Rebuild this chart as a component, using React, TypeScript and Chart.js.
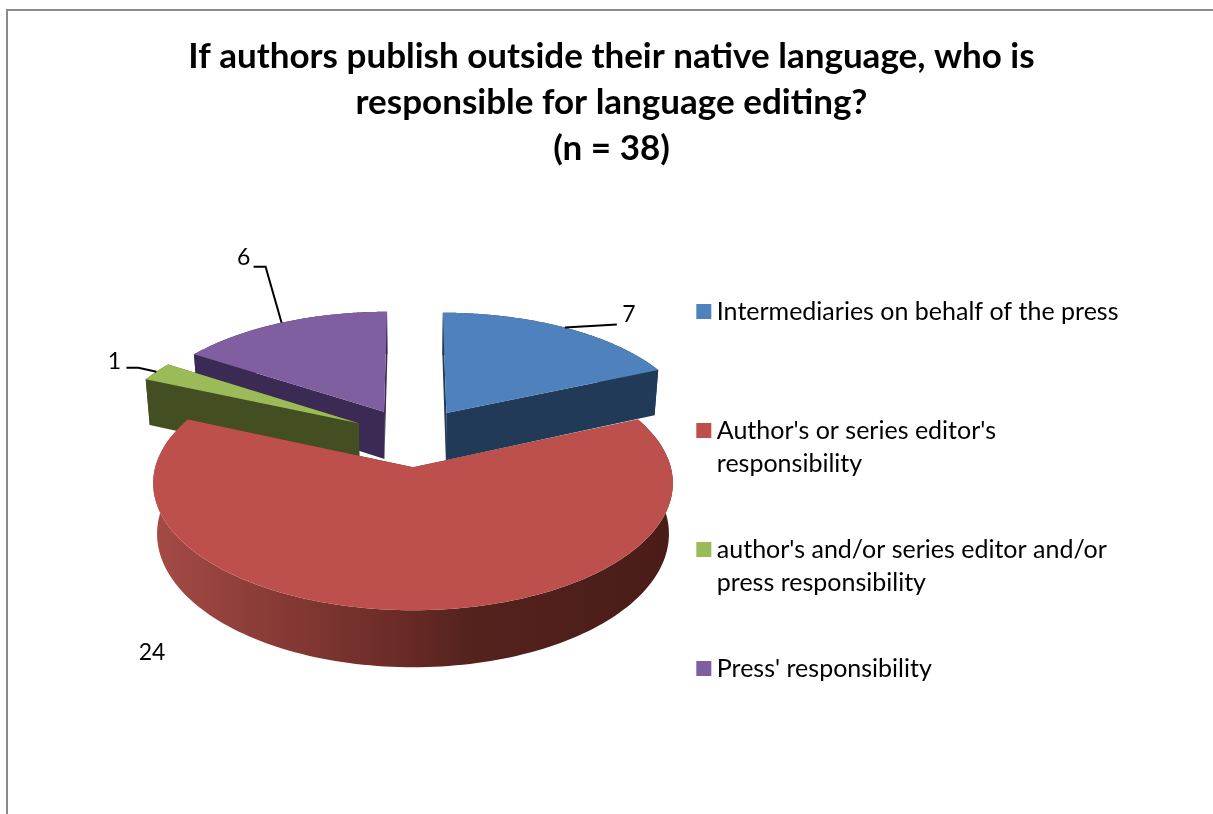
import React, { useEffect, useRef } from "react";
import { Chart, registerables } from "chart.js";

Chart.register(...registerables);

const titleLines = [
  "If authors publish outside their native language, who is",
  "responsible for language editing?",
  "(n = 38)",
];
const categories = [
  ["Intermediaries on behalf of the press", ""],
  ["Author's or series editor's", "responsibility"],
  ["author's and/or series editor and/or", "press responsibility"],
  ["Press' responsibility", ""],
];
const values = [7, 24, 1, 6];
const explosionPercent = [25, 25, 25, 25];
const topColors = ["#4f81bd", "#bd504c", "#9bbb59", "#7f5f9f"];
const sideColors = ["#203a58", "#6b2b27", "#434f22", "#3a2a54"];

// view projection of the pie plane (perspective camera looking down at the pie)
const VIEW = { cx: 413, cy: 468, a: 258, b: 125.3, p: 0.124, centerV: 0.255, depth: 50, shrink: 0.985 };
// leader line bends relative to the rim point at each slice's middle angle
const LEADERS: number[][][] = [
  [[52, -3]],
  [],
  [[-18, -4], [-30, -4]],
  [[-16, -56], [-28, -56]],
];
const LABEL_SHIFT = [[64, -13], [0, 0], [-42, -10], [-38, -65]];

type Pt = [number, number];

function project(u: number, v: number, lower = false): Pt {
  const w = 1 + VIEW.p * v;
  const x = (VIEW.a * u) / w;
  const y = (-VIEW.b * v) / w;
  if (!lower) return [VIEW.cx + x, VIEW.cy + y];
  return [VIEW.cx + x * VIEW.shrink, VIEW.cy + y + VIEW.depth / w];
}

function sliceGeom(el: any) {
  const mid = (el.startAngle + el.endAngle) / 2;
  const e = el.options.offset / 100;
  const u0 = Math.cos(mid) * e;
  const v0 = VIEW.centerV - Math.sin(mid) * e;
  const at = (ang: number): [number, number] => [u0 + Math.cos(ang), v0 - Math.sin(ang)];
  return { mid, u0, v0, at };
}

function poly(ctx: CanvasRenderingContext2D, pts: Pt[], fill: string | CanvasGradient) {
  ctx.beginPath();
  pts.forEach((p, i) => (i ? ctx.lineTo(p[0], p[1]) : ctx.moveTo(p[0], p[1])));
  ctx.closePath();
  ctx.fillStyle = fill;
  ctx.fill();
}

const pie3d = {
  id: "pie3d",
  beforeDatasetsDraw(chart: any) {
    const ctx: CanvasRenderingContext2D = chart.ctx;
    const arcs = chart.getDatasetMeta(0).data;
    const rimGrad = ctx.createLinearGradient(153, 0, 673, 0);
    rimGrad.addColorStop(0, "#a54b45");
    rimGrad.addColorStop(0.2, "#8c3d38");
    rimGrad.addColorStop(0.47, "#6b2b27");
    rimGrad.addColorStop(0.6, "#55231e");
    rimGrad.addColorStop(0.85, "#4e1e1a");
    rimGrad.addColorStop(1, "#4a1c18");
    [0, 3, 2, 1].forEach((i) => {
      const el = arcs[i];
      const g = sliceGeom(el);
      const steps = 160;
      const rimTop: Pt[] = [];
      const rimLow: Pt[] = [];
      for (let s = 0; s <= steps; s++) {
        const ang = el.startAngle + ((el.endAngle - el.startAngle) * s) / steps;
        const [u, v] = g.at(ang);
        rimTop.push(project(u, v));
        rimLow.push(project(u, v, true));
      }
      const vTop = project(g.u0, g.v0);
      const vLow = project(g.u0, g.v0, true);
      const side = sideColors[i];
      poly(ctx, [vTop, rimTop[0], rimLow[0], vLow], side);
      poly(ctx, [vTop, rimTop[steps], rimLow[steps], vLow], side);
      poly(ctx, [...rimTop, ...rimLow.slice().reverse()], i === 1 ? rimGrad : side);
      poly(ctx, [vTop, ...rimTop], el.options.backgroundColor);
    });
    return false;
  },
  afterDraw(chart: any) {
    const ctx: CanvasRenderingContext2D = chart.ctx;
    const arcs = chart.getDatasetMeta(0).data;
    ctx.save();
    ctx.font = "23px Lato";
    ctx.textAlign = "center";
    ctx.textBaseline = "middle";
    ctx.lineWidth = 2;
    ctx.strokeStyle = "#000";
    ctx.fillStyle = "#000";
    arcs.forEach((el: any, i: number) => {
      const g = sliceGeom(el);
      const [u, v] = g.at(g.mid);
      const rim = project(u, v);
      if (LEADERS[i].length) {
        ctx.beginPath();
        ctx.moveTo(rim[0], rim[1]);
        LEADERS[i].forEach((d) => ctx.lineTo(rim[0] + d[0], rim[1] + d[1]));
        ctx.stroke();
      }
      const pos: Pt = i === 1 ? [152, 653] : [rim[0] + LABEL_SHIFT[i][0], rim[1] + LABEL_SHIFT[i][1]];
      ctx.fillText(String(values[i]), pos[0], pos[1]);
    });
    ctx.restore();
  },
};

export default function App() {
  const ref = useRef<HTMLCanvasElement>(null);
  useEffect(() => {
    document.body.style.margin = "0";
    const chart = new Chart(ref.current!, {
      type: "pie",
      data: {
        labels: categories as any,
        datasets: [
          {
            data: values,
            backgroundColor: topColors,
            offset: explosionPercent,
            borderWidth: 0,
          },
        ],
      },
      plugins: [pie3d],
      options: {
        responsive: false,
        animation: false,
        layout: { padding: { top: 34, left: 94.5, right: 84.5, bottom: 0 } },
        plugins: {
          tooltip: { enabled: false },
          title: {
            display: true,
            text: titleLines,
            color: "#000",
            font: { family: "Lato", size: 35, weight: "bold", lineHeight: 46 / 35 },
            padding: { top: 0, bottom: 74 },
          },
          legend: {
            display: true,
            position: "right",
            align: "start",
            fullSize: false,
            labels: {
              color: "#000",
              font: { family: "Lato", size: 25, lineHeight: 33 / 25 },
              boxWidth: 1,
              boxHeight: 1,
              padding: 53,
              generateLabels: () =>
                categories.map((text, i) => ({
                  text,
                  fillStyle: topColors[i],
                  strokeStyle: topColors[i],
                  lineWidth: 14,
                  index: i,
                  hidden: false,
                })) as any,
            },
          },
        },
      },
    } as any);
    return () => chart.destroy();
  }, []);
  return (
    <div style={{ position: "fixed", left: 0, top: 0, width: 1213, height: 814, background: "#fff", overflow: "hidden" }}>
      <canvas ref={ref} width={1213} height={814} style={{ display: "block" }} />
      <div
        style={{
          position: "absolute",
          left: 6,
          top: 9,
          width: 1300,
          height: 900,
          border: "2px solid #8a8a8a",
          boxSizing: "border-box",
        }}
      />
    </div>
  );
}
